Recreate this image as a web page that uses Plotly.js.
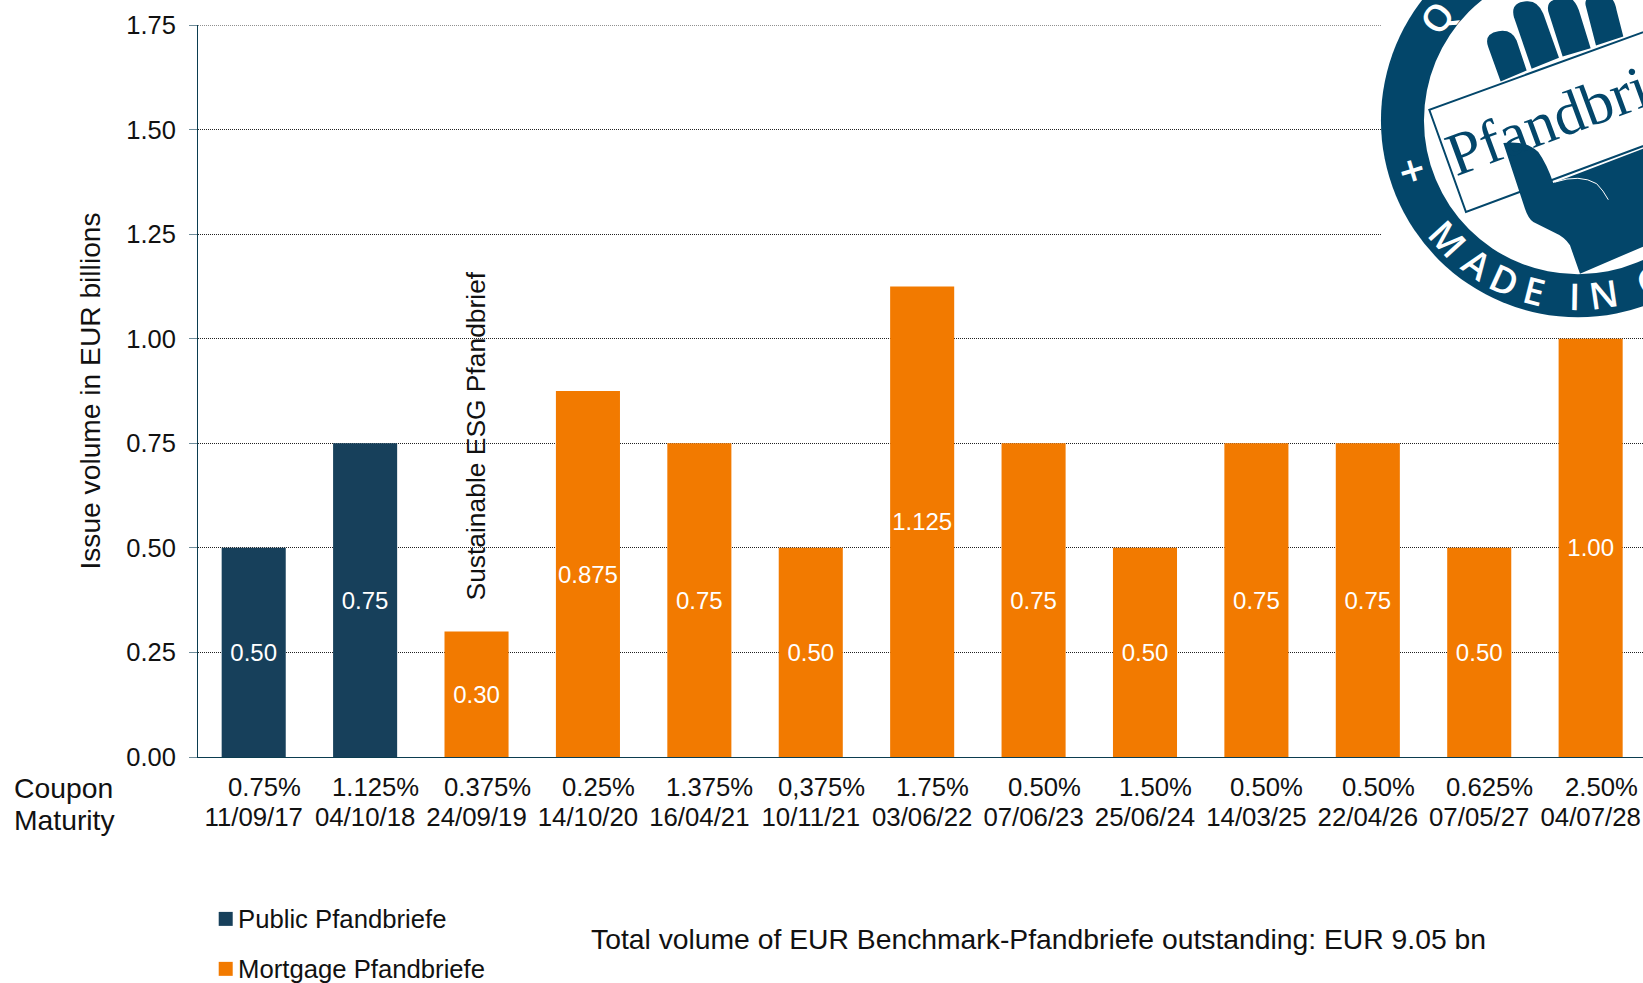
<!DOCTYPE html>
<html>
<head>
<meta charset="utf-8">
<script src="https://cdn.plot.ly/plotly-3.0.1.min.js"></script>
<style>html,body{margin:0;padding:0;background:#fff;overflow:hidden}#chart{width:1643px;height:983px}</style>
</head>
<body>
<div id="chart"></div>
<script>
// ---- data ----
const coupons = ["0.75%","1.125%","0.375%","0.25%","1.375%","0,375%","1.75%","0.50%","1.50%","0.50%","0.50%","0.625%","2.50%"];
const maturities = ["11/09/17","04/10/18","24/09/19","14/10/20","16/04/21","10/11/21","03/06/22","07/06/23","25/06/24","14/03/25","22/04/26","07/05/27","04/07/28"];
const publicVolumes = [0.50,0.75];
const publicLabels = ["0.50","0.75"];
const mortgageVolumes = [0.30,0.875,0.75,0.50,1.125,0.75,0.50,0.75,0.75,0.50,1.00];
const mortgageLabels = ["0.30","0.875","0.75","0.50","1.125","0.75","0.50","0.75","0.75","0.50","1.00"];
const yTicks = [0,0.25,0.5,0.75,1,1.25,1.5,1.75];

// ---- styling ----
const NAVY="#17405B", ORANGE="#F27A00", LOGO="#03466A", INK="#111111";
const FONT='"Liberation Sans", Arial, sans-serif';
const W=1643,H=983,L=198.3,T=24.5,B=757;
const X=p=>(p-L)/(W-L), Y=p=>(B-p)/(B-T);
const zx=z=>1340+z/3, zy=z=>z/3;
const zoomPath=s=>s.replace(/(-?[\d.]+),(-?[\d.]+)/g,(m,a,b)=>X(zx(+a))+','+Y(zy(+b)));

const traces=[
 {type:'bar',name:'Public Pfandbriefe',x:maturities.slice(0,2),y:publicVolumes,text:publicLabels,
  marker:{color:NAVY},showlegend:false},
 {type:'bar',name:'Mortgage Pfandbriefe',x:maturities.slice(2),y:mortgageVolumes,text:mortgageLabels,
  marker:{color:ORANGE},showlegend:false}
].map(t=>Object.assign(t,{width:0.575,textposition:'inside',insidetextanchor:'middle',constraintext:'none',
  textangle:0,insidetextfont:{family:FONT,size:24,color:'#fff'},hoverinfo:'skip',cliponaxis:false}));

const ann=(text,px,py,o={})=>Object.assign({text,xref:'paper',yref:'paper',x:X(px),y:Y(py),showarrow:false,
  xanchor:'left',yanchor:'middle',font:{family:FONT,size:25.7,color:INK}},o);

const annotations=[
 ann('Coupon',12.5,788,{font:{family:FONT,size:28.3,color:INK}}),
 ann('Maturity',12.5,820,{font:{family:FONT,size:28.3,color:INK}}),
 ann('Sustainable ESG Pfandbrief',476.5,436,{textangle:-90,xanchor:'center',font:{family:FONT,size:26.4,color:INK}}),
 ann('Public Pfandbriefe',236,919),
 ann('Mortgage Pfandbriefe',236,969),
 ann('Total volume of EUR Benchmark-Pfandbriefe outstanding: EUR 9.05 bn',589,939,{font:{family:FONT,size:28.3,color:INK}})
];
coupons.forEach((c,i)=>annotations.push({text:c,xref:'x',yref:'paper',x:maturities[i],y:Y(787),xshift:10.5,
  showarrow:false,xanchor:'center',yanchor:'middle',font:{family:FONT,size:25.7,color:INK}}));

// logo lettering
const R=526,CX=714,CY=360;
const letters=[['Q',-54,'top',37],['+',-107,'top',44],['M',47.6,'',37],['A',35,'',37],['D',24.6,'',37],['E',14.2,'',37],['I',1,'',37],['N',-8.3,'',37],['G',-24.5,'',37]];
letters.forEach(l=>{
  const a=l[1]*Math.PI/180;
  const cx=l[2]==='top'?CX+R*Math.sin(a):CX-R*Math.sin(a);
  const cy=l[2]==='top'?CY-R*Math.cos(a):CY+R*Math.cos(a);
  annotations.push(ann(l[0],zx(cx),zy(cy),{xanchor:'center',textangle:l[1],font:{family:'"Open Sans", sans-serif',size:l[3],color:'#fff',weight:600}}));
});
annotations.push(ann('Pfandbrief',zx(691),zy(337),{xanchor:'center',textangle:-20.3,font:{family:'"Liberation Serif", serif',size:61,color:LOGO}}));

const box=(x0,y0,x1,y1,fill,type='rect',line=0)=>({type,xref:'paper',yref:'paper',x0:X(x0),x1:X(x1),y0:Y(y0),y1:Y(y1),
  fillcolor:fill,line:{width:line,color:fill},layer:'above'});
const zpath=(d,fill,lw=0,lc=LOGO)=>({type:'path',xref:'paper',yref:'paper',path:zoomPath(d),fillcolor:fill,line:{width:lw,color:lc},layer:'above'});

const shapes=[
 {type:'line',xref:'paper',yref:'y',x0:0,x1:1,y0:1.75,y1:1.75,line:{color:'#222',width:1,dash:'1px,1px'},layer:'below'},
 box(1381,-5,1660,326,'#fff'),
 box(zx(CX)-197,zy(CY)-197,zx(CX)+197,zy(CY)+197,LOGO,'circle'),
 box(zx(CX)-154,zy(CY)-154,zx(CX)+154,zy(CY)+154,'#fff','circle'),
 zpath('M482,243 L445,140 Q430,100 475,92 Q515,85 530,120 L560,210 Z',LOGO),
 zpath('M575,205 L522,50 Q510,5 560,2 Q595,0 610,40 L657,172 Z',LOGO),
 zpath('M668,168 L627,40 Q612,-5 665,-5 L695,-5 Q712,10 720,40 L752,143 Z',LOGO),
 zpath('M768,135 L737,15 Q732,-10 760,-10 L810,-10 Q825,0 830,30 L850,108 Z',LOGO),
 zpath('M268,328 L378,635 L1100,366 L1100,26 Z','#fff',2),
 zpath('M490,428 Q560,420 595,455 Q620,490 640,548 L1000,410 L1000,700 L720,820 L690,735 Q675,710 640,695 L580,665 Q565,655 555,625 Z',LOGO),
 zpath('M645,545 Q720,520 770,550 Q790,570 805,598','rgba(0,0,0,0)',1,'#fff'),
 box(219,912,233,926,NAVY),
 box(219,962,233,976,ORANGE)
];

const layout={
 width:W,height:H,autosize:false,
 margin:{l:L,r:0,t:T,b:H-B,pad:0},
 paper_bgcolor:'#fff',plot_bgcolor:'#fff',
 barmode:'overlay',showlegend:false,
 font:{family:FONT,size:25,color:INK},
 xaxis:{type:'category',categoryorder:'array',categoryarray:maturities,tickmode:'array',tickvals:maturities,ticktext:maturities,
  range:[-0.5,12.47],showline:true,linecolor:'#0B3D50',linewidth:1,ticks:'',showgrid:false,zeroline:false,
  ticklabelstandoff:37,tickangle:0,tickfont:{family:FONT,size:25.8,color:INK},automargin:false},
 yaxis:{range:[0,1.75],tickmode:'array',tickvals:yTicks,tickformat:'.2f',showline:true,linecolor:'#0B3D50',linewidth:1,
  ticks:'outside',ticklen:8,tickcolor:'#6F8C99',tickwidth:1,showgrid:true,gridcolor:'#222',gridwidth:1,griddash:'1px,1px',
  zeroline:false,ticklabelstandoff:8,tickfont:{family:FONT,size:25.5,color:INK},automargin:false,
  title:{text:'Issue volume in EUR billions',standoff:17,font:{family:FONT,size:28.2,color:INK}}},
 annotations,shapes
};
Plotly.newPlot('chart',traces,layout,{displayModeBar:false,staticPlot:true,responsive:false});
</script>
</body>
</html>
